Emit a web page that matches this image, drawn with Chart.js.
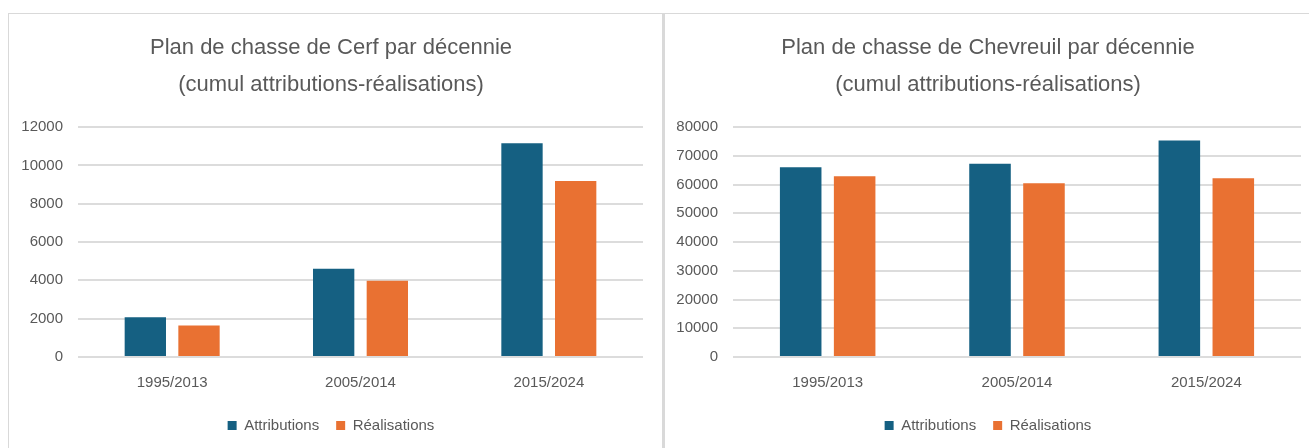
<!DOCTYPE html>
<html>
<head>
<meta charset="utf-8">
<script src="https://cdn.jsdelivr.net/npm/chart.js@4"></script>
<style>
  html, body { margin: 0; padding: 0; background: #fff; }
  body { width: 1309px; height: 448px; position: relative; overflow: hidden; }
  .frame { position: absolute; background: #d9d9d9; }
  .panel { position: absolute; top: 13px; height: 435px; }
</style>
</head>
<body>
<div class="frame" style="left:8px; top:13px; width:1301px; height:1px;"></div>
<div class="frame" style="left:8px; top:13px; width:1px; height:435px;"></div>
<div class="frame" style="left:662px; top:13px; width:3px; height:435px;"></div>
<div class="panel" style="left:9px; width:653px;"><canvas id="cerfChart"></canvas></div>
<div class="panel" style="left:665px; width:644px;"><canvas id="chevreuilChart"></canvas></div>
<script>
'use strict';

// ** DATA **

let decades = ['1995/2013', '2005/2014', '2015/2024'];
let seriesNames = ['Attributions', 'Réalisations'];

let cerfAttributions = [2080, 4600, 11150];
let cerfRealisations = [1650, 3980, 9180];
let cerfTicks = [0, 2000, 4000, 6000, 8000, 10000, 12000];

let chevreuilAttributions = [66050, 67200, 75330];
let chevreuilRealisations = [62900, 60470, 62210];
let chevreuilTicks = [0, 10000, 20000, 30000, 40000, 50000, 60000, 70000, 80000];

// ** STYLE **

const blue = '#156082';
const orange = '#E97132';
const grey = '#595959';
const fontFamily = '"Liberation Sans", Arial, sans-serif';

Chart.defaults.font.family = fontFamily;
Chart.defaults.color = grey;

// ** CHART BUILDER **

function makeChart(canvasId, titleLines, attributions, realisations, ticks, padLeft, padRight, axisWidth) {
  let ctx = document.getElementById(canvasId);

  let chartObj = {
    type: 'bar',
    data: {
      labels: decades,
      datasets: [{
        label: seriesNames[0],
        data: attributions,
        backgroundColor: blue,
        categoryPercentage: 0.57,
        barPercentage: 0.77
      },
      {
        label: seriesNames[1],
        data: realisations,
        backgroundColor: orange,
        categoryPercentage: 0.57,
        barPercentage: 0.77
      }]
    },
    options: {
      responsive: true,
      maintainAspectRatio: false,
      animation: false,
      layout: {
        padding: { left: padLeft, right: padRight, top: 0, bottom: 5 }
      },
      plugins: {
        title: {
          display: true,
          text: titleLines,
          color: grey,
          font: { size: 22, weight: 'normal', lineHeight: 1.66 },
          padding: { top: 17, bottom: 24 }
        },
        legend: {
          position: 'bottom',
          labels: {
            boxWidth: 9,
            boxHeight: 9,
            padding: 17,
            color: grey,
            font: { size: 15 }
          }
        },
        tooltip: { enabled: false }
      },
      scales: {
        x: {
          grid: { display: false },
          border: { display: false },
          ticks: { padding: 9, color: grey, font: { size: 15 } }
        },
        y: {
          min: ticks[0],
          max: ticks[ticks.length - 1],
          afterFit: function (scale) { scale.width = axisWidth; },
          grid: { color: '#dcdcdc', lineWidth: 2, drawTicks: false },
          border: { display: false },
          ticks: {
            stepSize: ticks[1] - ticks[0],
            padding: 15,
            color: grey,
            font: { size: 15 },
            callback: function (value) { return String(value); }
          }
        }
      }
    }
  };

  return new Chart(ctx, chartObj);
}

makeChart('cerfChart',
  ['Plan de chasse de Cerf par décennie', '(cumul attributions-réalisations)'],
  cerfAttributions, cerfRealisations, cerfTicks, 10, 19, 59);

makeChart('chevreuilChart',
  ['Plan de chasse de Chevreuil par décennie', '(cumul attributions-réalisations)'],
  chevreuilAttributions, chevreuilRealisations, chevreuilTicks, 10, 8, 58);
</script>
</body>
</html>
